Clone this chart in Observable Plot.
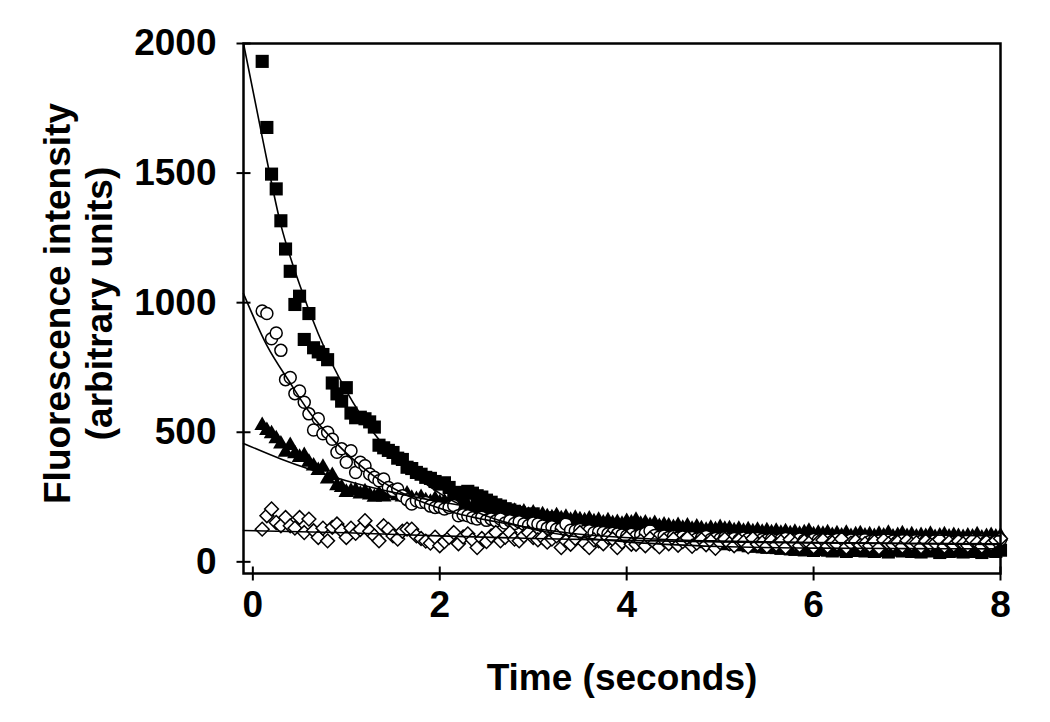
<!DOCTYPE html>
<html>
<head>
<meta charset="utf-8">
<script src="https://cdn.jsdelivr.net/npm/d3@7"></script>
<script src="https://cdn.jsdelivr.net/npm/@observablehq/plot@0.6"></script>
<style>
  html, body { margin: 0; padding: 0; background: #fff; }
</style>
</head>
<body>
<div id="chart"></div>
<script>
// Sample times (s): 0.10 to 8.00 every 0.05 s
const time = d3.range(159).map(i => +(0.1 + 0.05 * i).toFixed(2));

// Filled squares
const squares = [
  1931,1676,1496,1439,1316,1207,1121,993,1025,858,
  958,826,810,800,780,690,648,620,672,574,
  556,558,552,540,520,450,440,430,422,400,
  395,365,360,345,338,326,322,310,300,305,
  287,262,268,258,272,265,255,250,238,230,
  220,215,205,200,195,190,182,178,185,172,
  165,170,158,152,160,148,140,145,150,138,
  132,128,135,125,120,126,115,118,122,110,
  105,112,100,98,104,95,92,100,88,90,
  85,92,80,82,78,86,74,76,72,70,
  75,68,66,72,62,60,66,58,56,62,
  55,52,58,50,48,54,46,50,44,48,
  52,45,42,50,46,40,48,44,52,42,
  46,40,48,44,38,50,45,42,48,40,
  44,38,46,42,50,36,44,40,48,42,
  38,46,40,44,36,48,42,40,45
];
// Open circles
const circles = [
  968,958,861,883,816,703,711,649,659,616,
  571,509,552,494,500,473,423,436,384,429,
  345,384,371,339,326,313,320,287,275,281,
  255,240,223,236,230,229,215,210,212,204,
  210,217,178,182,178,170,165,172,160,165,
  158,165,150,159,148,155,146,140,150,146,
  138,130,135,126,128,146,122,120,125,118,
  120,112,115,113,108,110,107,104,100,106,
  98,104,110,120,102,96,100,94,98,92,
  96,90,94,88,92,98,86,90,88,94,
  86,90,84,92,88,82,90,86,84,88,
  82,86,90,80,84,88,82,78,86,84,
  80,84,78,86,82,80,84,78,82,86,
  78,82,80,76,84,80,78,82,76,80,
  84,78,80,76,82,78,80,84,76,80,
  78,82,76,80,84,78,82,80,85
];
// Filled triangles
const triangles = [
  526,507,494,475,455,423,449,417,403,410,
  384,370,352,365,320,333,294,287,268,272,
  275,262,270,258,249,262,250,262,268,255,
  250,262,245,240,248,236,230,242,228,232,
  225,230,218,222,215,210,218,205,212,200,
  205,196,200,190,195,186,192,180,188,176,
  182,174,170,178,166,172,160,168,162,158,
  165,155,160,150,158,148,152,145,156,150,
  160,145,150,140,148,136,142,138,132,140,
  130,138,126,134,128,122,130,124,132,126,
  128,120,126,118,124,116,122,114,120,112,
  118,110,116,108,114,106,112,118,104,110,
  106,112,102,108,100,110,98,104,108,100,
  104,98,106,100,110,96,102,108,98,104,
  96,102,98,106,94,100,104,96,102,98,
  94,100,96,104,92,98,102,96,100
];
// Open diamonds
const diamonds = [
  126,178,204,152,139,171,139,130,171,113,
  165,120,94,130,81,133,146,120,94,130,
  110,125,159,118,100,81,139,125,100,88,
  118,126,126,100,90,80,72,95,62,78,
  94,113,70,96,108,85,55,90,78,100,
  113,81,95,113,88,81,100,113,94,85,
  94,76,88,100,55,80,68,90,113,72,
  55,85,81,70,94,88,55,76,92,68,
  68,80,62,90,74,58,84,70,88,64,
  78,92,60,72,86,66,80,52,74,88,
  70,62,84,76,58,90,68,74,60,82,
  66,78,56,86,70,62,80,72,58,76,
  84,60,74,68,88,56,72,80,64,70,
  62,78,54,84,70,66,76,60,82,68,
  74,58,80,66,72,86,60,76,64,80,
  70,62,84,74,60,78,68,82,90
];

// Fitted curves
const squareFitT = [-0.1, 0.1, 0.3, 0.5, 0.7, 1.0, 1.3, 1.6, 2, 2.5, 3, 3.5, 4, 5, 6, 7, 8];
const squareFitV = [2000, 1640, 1300, 1070, 880, 660, 494, 376, 264, 177, 126, 95, 77, 59, 53, 51, 50];
const circleFitT = [-0.1, 0.15, 0.4, 0.6, 0.9, 1.3, 1.7, 2.1, 2.7, 3.4, 4.3, 5, 6, 7, 8];
const circleFitV = [1035, 835, 690, 580, 455, 330, 248, 195, 148, 110, 88, 80, 74, 72, 70];
const triFitT = [-0.1, 0.3, 0.6, 1.0, 1.5, 2, 2.5, 3, 3.5, 4, 5, 6, 7, 8];
const triFitV = [457, 397, 358, 313, 268, 232, 203, 181, 163, 148, 127, 113, 105, 100];
const diaFitT = [-0.1, 1, 2, 3, 4, 5, 6, 7, 8];
const diaFitV = [121, 112, 100, 90, 83, 77, 73, 70, 67];

const xTicks = [0, 2, 4, 6, 8];
const yTicks = [0, 500, 1000, 1500, 2000];
const xLabel = "Time (seconds)";
const yLabel = "Fluorescence intensity\n(arbitrary units)";

const series = (vals) => time.map((t, i) => ({t, v: vals[i]}));
const fit = (T, V) => T.map((t, i) => ({t, v: V[i]}));

const hTick = {draw(ctx) { ctx.moveTo(-7, 0); ctx.lineTo(7, 0); }};
const vTick = {draw(ctx) { ctx.moveTo(0, -7); ctx.lineTo(0, 7); }};

const font = "'Liberation Sans', Arial, Helvetica, sans-serif";

const chart = Plot.plot({
  width: 1050,
  height: 722,
  marginLeft: 243,
  marginRight: 50,
  marginTop: 43,
  marginBottom: 149,
  x: {domain: [-0.1, 8]},
  y: {domain: [-45, 2000]},
  style: {fontFamily: font, fontWeight: "bold", fontSize: "37px", background: "white", color: "black", overflow: "visible"},
  marks: [
    Plot.dot(series(squares), {x: "t", y: "v", symbol: "square", r: 7.4, fill: "black", stroke: "none"}),
    Plot.dot(series(triangles), {x: "t", y: "v", symbol: "triangle", r: 5.8, fill: "black", stroke: "none"}),
    Plot.dot(series(circles), {x: "t", y: "v", symbol: "circle", r: 6.0, fill: "white", stroke: "black", strokeWidth: 1.5}),
    Plot.dot(series(diamonds), {x: "t", y: "v", symbol: "diamond2", r: 6.2, fill: "white", stroke: "black", strokeWidth: 1.5}),
    Plot.line(fit(squareFitT, squareFitV), {x: "t", y: "v", curve: "monotone-x", stroke: "black", strokeWidth: 1.6}),
    Plot.line(fit(circleFitT, circleFitV), {x: "t", y: "v", curve: "monotone-x", stroke: "black", strokeWidth: 1.6}),
    Plot.line(fit(triFitT, triFitV), {x: "t", y: "v", curve: "monotone-x", stroke: "black", strokeWidth: 1.6}),
    Plot.line(fit(diaFitT, diaFitV), {x: "t", y: "v", curve: "monotone-x", stroke: "black", strokeWidth: 1.6}),
    Plot.frame({stroke: "black", strokeWidth: 2.5}),
    Plot.dot(yTicks, {y: d => d, frameAnchor: "left", symbol: hTick, r: 7, fill: "none", stroke: "black", strokeWidth: 2}),
    Plot.dot(xTicks, {x: d => d, frameAnchor: "bottom", symbol: vTick, r: 7, fill: "none", stroke: "black", strokeWidth: 2}),
    Plot.axisX(xTicks, {tickSize: 0, tickPadding: 17, tickFormat: d => String(d), label: null, fontSize: 37, fontWeight: "bold", fontFamily: font}),
    Plot.axisY(yTicks, {tickSize: 0, tickPadding: 27, tickFormat: d => String(d), label: null, fontSize: 37, fontWeight: "bold", fontFamily: font}),
    Plot.text([xLabel], {frameAnchor: "bottom", dy: 105, text: d => d, textAnchor: "middle", lineAnchor: "middle", fontSize: 37, fontWeight: "bold", fontFamily: font}),
    Plot.text([yLabel], {frameAnchor: "left", dx: -166, dy: -5, rotate: -90, text: d => d, textAnchor: "middle", lineAnchor: "middle", lineHeight: 1.15, fontSize: 37, fontWeight: "bold", fontFamily: font})
  ]
});
document.getElementById("chart").appendChild(chart);
</script>
</body>
</html>
